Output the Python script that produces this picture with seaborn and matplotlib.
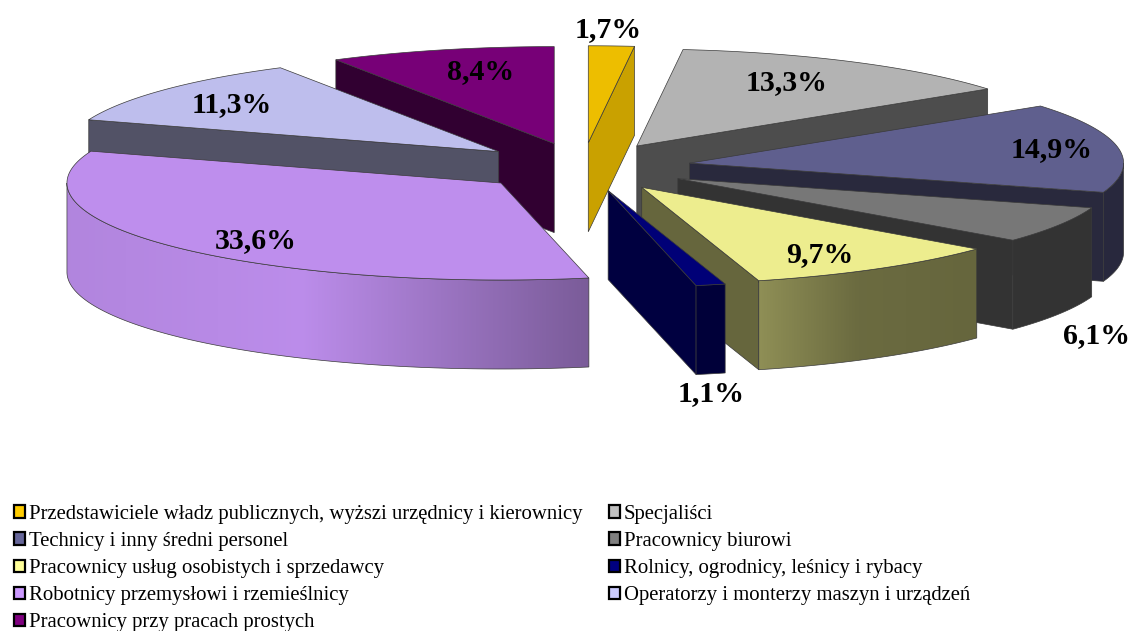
import matplotlib
matplotlib.use("Agg")
import matplotlib.pyplot as plt
import numpy as np
import pandas as pd
import seaborn as sns
from matplotlib.patches import Patch, Polygon

# Data
categories = [
    "Przedstawiciele władz publicznych, wyższi urzędnicy i kierownicy",
    "Specjaliści",
    "Technicy i inny średni personel",
    "Pracownicy biurowi",
    "Pracownicy usług osobistych i sprzedawcy",
    "Rolnicy, ogrodnicy, leśnicy i rybacy",
    "Robotnicy przemysłowi i rzemieślnicy",
    "Operatorzy i monterzy maszyn i urządzeń",
    "Pracownicy przy pracach prostych",
]
values = [1.7, 13.3, 14.9, 6.1, 9.7, 1.1, 33.6, 11.3, 8.4]
value_labels = ["1,7%", "13,3%", "14,9%", "6,1%", "9,7%", "1,1%", "33,6%", "11,3%", "8,4%"]
base_colors = ["#FFCC00", "#C0C0C0", "#666699", "#808080", "#FFFF99",
               "#000080", "#CC99FF", "#CCCCFF", "#800080"]

# Styling of the faces
TOP_SHADE = 0.93
wall_shade = [0.79, 0.4, 0.4, 0.4, 0.4, 0.5, 0.4, 0.4, 0.38]
rim_shade = [
    (0.4, 0.4, 0.4), (0.4, 0.4, 0.4), (0.4, 0.4, 0.4), (0.4, 0.4, 0.4),
    (0.56, 0.42, 0.4), (0.45, 0.45, 0.45), (0.87, 0.92, 0.6),
    (0.4, 0.4, 0.4), (0.38, 0.38, 0.38),
]
label_xy = [(608, 30), (787, 83), (1052, 150), (1096, 336), (820, 255),
            (711, 394), (256, 241), (232, 105), (481, 72)]

# Pie geometry in figure pixels
CX, CY = 582.5, 167
RX, RY = 434, 97
DEPTH = 89
EXPLODE = 0.25

sns.set_theme(style="white", font="Liberation Serif")
palette = sns.color_palette(base_colors)
df = pd.DataFrame({"category": categories, "value": values, "label": value_labels})
df["end"] = df["value"].cumsum() / df["value"].sum() * 360
df["start"] = df["end"] - df["value"] / df["value"].sum() * 360
df["mid"] = (df["start"] + df["end"]) / 2


def rim_xy(angles, ox, oy):
    a = np.radians(angles)
    return ox + RX * np.sin(a), oy - RY * np.cos(a)


fig, ax = plt.subplots(figsize=(11.33, 6.31), dpi=100)
fig.subplots_adjust(0, 0, 1, 1)
edge = "#3a3a3a"

# back to front, so nearer slices cover the ones behind
order = df.sort_values("mid", key=lambda s: -np.cos(np.radians(s))).index
z = 1
for i in order:
    row = df.loc[i]
    color = np.array(palette[i])
    ox, oy = rim_xy(row["mid"], CX, CY)
    ox, oy = CX + (ox - CX) * EXPLODE, CY + (oy - CY) * EXPLODE

    # radial walls, only the ones facing the viewer
    for ang, normal in ((row["start"], row["start"] - 90), (row["end"], row["end"] + 90)):
        if np.cos(np.radians(normal)) < 0:
            x, y = rim_xy(ang, ox, oy)
            wall = [(ox, oy), (x, y), (x, y + DEPTH), (ox, oy + DEPTH)]
            ax.add_patch(Polygon(wall, closed=True, facecolor=color * wall_shade[i],
                                 edgecolor=edge, lw=0.5, zorder=z))
            z += 1

    # outer rim with its gradient
    lo, hi = max(row["start"], 90), min(row["end"], 270)
    if hi > lo:
        ang = np.linspace(lo, hi, 120)
        x, y = rim_xy(ang, ox, oy)
        pts = np.r_[np.c_[x, y], np.c_[x, y + DEPTH][::-1]]
        poly = Polygon(pts, closed=True, facecolor="none", edgecolor=edge, lw=0.5, zorder=z + 1)
        ax.add_patch(poly)
        s = np.interp(np.linspace(0, 1, 256), [0, 0.45, 1], rim_shade[i])
        grad = (color[None, None, :] * s[None, :, None]).clip(0, 1)
        im = ax.imshow(grad, extent=(x.min(), x.max(), y.max() + DEPTH, y.min()),
                       aspect="auto", interpolation="bilinear", zorder=z)
        im.set_clip_path(poly)
        z += 2

    # top face
    ang = np.linspace(row["start"], row["end"], 120)
    x, y = rim_xy(ang, ox, oy)
    top = np.r_[[(ox, oy)], np.c_[x, y]]
    ax.add_patch(Polygon(top, closed=True, facecolor=color * TOP_SHADE,
                         edgecolor=edge, lw=0.5, zorder=z))
    z += 1

for text, (tx, ty) in zip(value_labels, label_xy):
    ax.text(tx, ty, text, ha="center", va="center", fontsize=21.5, fontweight="bold",
            color="black", zorder=z)

ax.set_xlim(0, 1133)
ax.set_ylim(631, 0)
ax.axis("off")

# legend fills column by column, the reference reads row by row
legend_order = [0, 2, 4, 6, 8, 1, 3, 5, 7]
handles = [Patch(facecolor=palette[i], edgecolor="black", lw=1.6) for i in legend_order]
leg = ax.legend(handles, [categories[i] for i in legend_order], ncol=2, loc="upper left",
                bbox_to_anchor=(14 / 1133, 1 - 505 / 631), frameon=False, fontsize=14.95,
                labelcolor="black", handlelength=0.55, handleheight=0.55, handletextpad=0.15,
                labelspacing=0.39, columnspacing=1.3, borderpad=0, borderaxespad=0)
leg.set_zorder(z)

plt.savefig("out.png", dpi=100)
